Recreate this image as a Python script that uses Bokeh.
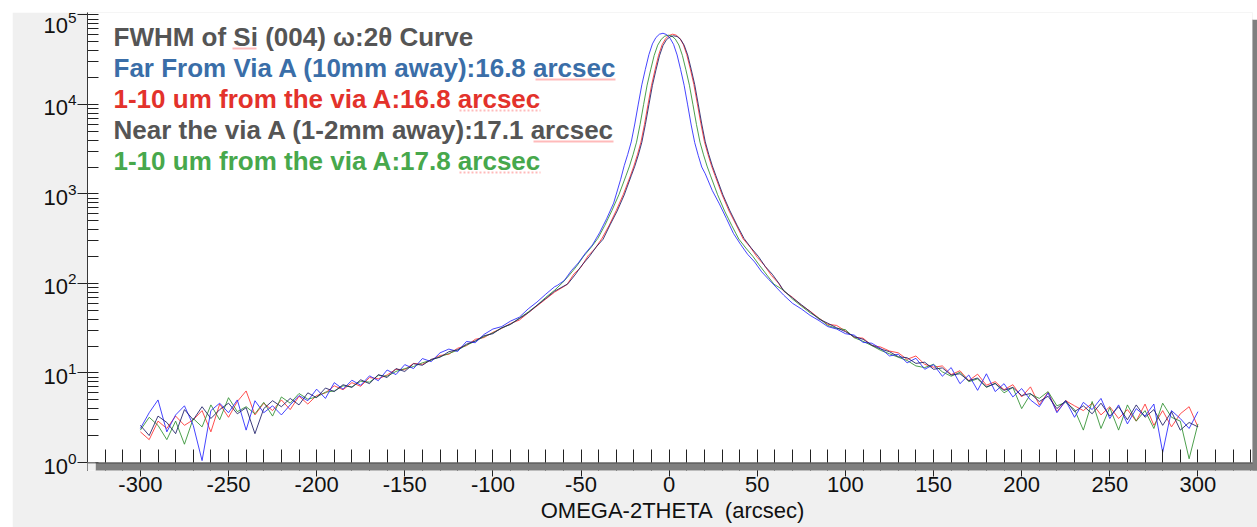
from math import pi
from bokeh.plotting import figure
from bokeh.models import Range1d, FixedTicker, Label, BoxAnnotation, ColumnDataSource
from bokeh.embed import file_html
from bokeh.resources import INLINE

# ---------------- data ----------------
tail_left_x = [-300, -295, -290, -285, -280, -275, -270, -265, -260, -255, -250, -245,
               -240, -235, -230, -225, -220, -215, -210, -205, -200, -195, -190, -185,
               -180, -175, -170, -165, -160, -155, -150, -145, -140, -135, -130, -125,
               -120, -115, -110, -105, -100, -95, -90, -85, -80, -75, -70, -65]
tail_right_x = [65, 70, 75, 80, 85, 90, 95, 100, 105, 110, 115, 120,
                125, 130, 135, 140, 145, 150, 155, 160, 165, 170, 175, 180,
                185, 190, 195, 200, 205, 210, 215, 220, 225, 230, 235, 240,
                245, 250, 255, 260, 265, 270, 275, 280, 285, 290, 295, 300]

# Far From Via A (blue)
blue_left = [2.4, 3.6, 5.0, 2.2, 3.4, 4.3, 2.6, 1.05, 3.8, 4.6, 3.6, 5.0, 2.3, 4.9, 3.6, 4.3,
             3.4, 4.4, 5.6, 4.9, 6.6, 5.2, 7.8, 6.6, 8.3, 7.3, 9.3, 8.2, 10.8, 9.6, 12.4, 11.2,
             14.5, 13.4, 16.8, 18.5, 17.4, 22.5, 21.8, 27, 31, 33, 38, 42, 52, 62, 76, 92]
blue_core_x = [-63.5, -59.5, -55.5, -51.5, -47.5, -43.5, -39.5, -35.5, -31.5, -27.5,
               -25.5, -23.5, -21.5, -19.5, -17.5, -15.5, -13.5, -11.5, -9.5, -7.5, -5.5, -3.5,
               -1.5, 0.5, 2.5, 4.5, 6.5, 8.5, 10.5, 12.5, 14.5, 16.5, 18.5,
               20.5, 24.5, 28.5, 32.5, 36.5, 40.5, 44.5, 48.5, 52.5, 56.5]
blue_core = [95, 108, 139, 170, 218, 270, 368, 528, 790, 1460,
             2070, 2770, 3820, 6050, 10100, 16600, 24700, 36000, 47500, 56000, 61000, 62500,
             60500, 55000, 47000, 35800, 24600, 16400, 9900, 5900, 3750, 2700, 2000,
             1680, 1090, 775, 532, 362, 274, 212, 174, 135, 111]
blue_right = [74, 60, 52, 44, 38.5, 33, 31, 27.5, 26.5, 22, 21.5, 18.8, 15.5, 16.2, 13.0, 14.6,
              11.0, 12.4, 9.2, 11.5, 7.6, 9.5, 6.4, 9.8, 6.2, 7.6, 5.4, 6.7, 5.0, 4.2, 6.0, 3.6,
              4.9, 3.2, 4.7, 3.9, 5.2, 3.1, 4.4, 2.7, 4.0, 3.3, 4.5, 1.3, 3.8, 3.1, 2.4, 3.7]

# 1-10 um from the via A (red)
red_left = [2.2, 1.8, 2.9, 2.4, 3.3, 2.6, 3.0, 3.8, 2.2, 4.5, 3.2, 4.8, 6.3, 3.4, 4.6, 3.8,
            5.0, 3.9, 5.5, 4.5, 5.6, 6.0, 7.2, 6.5, 7.8, 7.1, 8.9, 8.6, 9.5, 11.0, 10.9, 12.8,
            12.5, 14.0, 15.7, 16.2, 18.9, 20.2, 23.8, 24.9, 28.5, 31.5, 35.8, 39, 47, 56, 67, 80]
red_core_x = [-58, -54, -50, -46, -42, -38, -34, -30, -26, -22,
              -20, -18, -16, -14, -12, -10, -8, -6, -4, -2, 0, 2, 4, 6, 8, 10, 12, 14, 16,
              18, 20, 22, 24,
              26, 30, 34, 38, 42, 46, 50, 54, 58, 62]
red_core = [97, 128, 152, 204, 246, 322, 448, 655, 990, 1590,
            2060, 2750, 3800, 6000, 10000, 16400, 24500, 35500, 46500, 54500, 59000, 61000,
            59500, 55000, 47000, 36000, 25000, 16800, 10200, 6100, 3850, 2780, 2070,
            1610, 985, 645, 452, 315, 255, 196, 160, 123, 101]
red_right = [82, 70, 57, 49, 41, 35, 34, 29.5, 25, 24.5, 20.3, 19.5, 17.6, 16.8, 14.2, 15.5,
             12.5, 11.6, 12.0, 9.6, 10.6, 8.2, 9.7, 7.3, 8.0, 6.5, 7.4, 5.4, 7.0, 4.4, 6.1, 3.7,
             4.9, 4.3, 3.8, 4.6, 3.4, 4.2, 3.1, 3.9, 2.9, 4.5, 2.6, 3.8, 2.5, 3.5, 4.2, 2.5]

# Near the via A (dark navy)
navy_left = [2.6, 2.0, 3.3, 2.8, 2.1, 3.9, 3.0, 4.2, 3.1, 3.9, 4.6, 3.5, 4.1, 2.1, 4.0, 4.9,
             4.2, 5.2, 4.4, 6.0, 5.3, 6.8, 6.2, 7.4, 6.9, 8.4, 7.6, 9.6, 8.9, 11.2, 10.4, 12.7,
             12.2, 14.2, 15.0, 17.3, 18.2, 21.0, 22.8, 26.1, 27.5, 32, 35, 40.5, 47, 57, 68, 82]
navy_core_x = [-57.5, -53.5, -49.5, -45.5, -41.5, -37.5, -33.5, -29.5, -25.5, -21.5,
               -19.5, -17.5, -15.5, -13.5, -11.5, -9.5, -7.5, -5.5, -3.5, -1.5, 0.5, 2.5,
               4.5, 6.5, 8.5, 10.5, 12.5, 14.5, 16.5, 18.5, 20.5, 22.5, 24.5,
               26.5, 30.5, 34.5, 38.5, 42.5, 46.5, 50.5, 54.5, 58.5, 62.5]
navy_core = [99, 124, 160, 198, 254, 312, 452, 645, 975, 1600,
             2040, 2720, 3780, 5950, 9900, 16300, 24200, 35000, 45500, 53000, 57000, 58500,
             57500, 53500, 46000, 35800, 24800, 16700, 10100, 6050, 3820, 2760, 2060,
             1605, 978, 648, 449, 318, 250, 202, 155, 127, 99]
navy_right = [83, 69, 58, 48.5, 40, 36, 32, 29, 25.5, 23.8, 20.5, 18.5, 17.3, 15.2, 14.8, 12.8,
              13.2, 11.0, 11.4, 9.5, 9.8, 8.2, 8.8, 7.0, 7.6, 6.4, 6.9, 5.6, 5.9, 4.8, 5.5, 4.0,
              4.9, 3.7, 4.3, 3.5, 4.6, 3.3, 4.2, 3.0, 4.4, 3.2, 3.9, 2.6, 3.7, 2.3, 2.8, 2.5]

# 1-10 um from the via A (green)
green_left = [2.3, 3.2, 2.6, 1.8, 2.9, 1.6, 3.1, 2.5, 4.4, 3.0, 5.3, 3.7, 4.2, 3.5, 4.7, 3.3,
              5.4, 4.6, 5.9, 5.1, 5.4, 6.1, 6.3, 7.2, 7.0, 8.1, 7.9, 9.4, 9.2, 10.4, 11.2, 11.8,
              13.0, 13.9, 15.2, 16.5, 18.0, 20.5, 22.6, 25.5, 28, 31.8, 35, 41, 48, 57, 70, 84]
green_core_x = [-60.5, -56.5, -52.5, -48.5, -44.5, -40.5, -36.5, -32.5, -28.5, -24.5,
                -22.5, -20.5, -18.5, -16.5, -14.5, -12.5, -10.5, -8.5, -6.5, -4.5, -2.5, -0.5,
                1.5, 3.5, 5.5, 7.5, 9.5, 11.5, 13.5, 15.5, 17.5, 19.5, 21.5,
                23.5, 27.5, 31.5, 35.5, 39.5, 43.5, 47.5, 51.5, 55.5, 59.5]
green_core = [102, 125, 156, 202, 250, 318, 446, 652, 982, 1595,
              2050, 2740, 3790, 5980, 9950, 16450, 24400, 35300, 46000, 53500, 58000, 59500,
              58200, 53800, 46200, 35400, 24400, 16400, 9950, 5970, 3790, 2740, 2050,
              1598, 980, 642, 445, 314, 249, 201, 157, 124, 98]
green_right = [84, 67, 56, 47, 41, 34, 31.5, 30.5, 24.8, 22.6, 20.2, 17.9, 16.4, 15.0, 13.8, 12.0,
               11.5, 12.5, 10.3, 9.2, 10.2, 8.0, 8.6, 6.9, 7.7, 6.0, 6.9, 4.0, 5.8, 5.2, 6.2, 4.3,
               4.7, 3.9, 2.3, 4.8, 2.4, 4.1, 2.3, 4.4, 2.9, 3.8, 2.4, 4.6, 3.2, 2.9, 1.1, 2.7]

x_major_ticks = [-300, -250, -200, -150, -100, -50, 0, 50, 100, 150, 200, 250, 300]
x_minor_ticks = [-330, -320, -310, -290, -280, -270, -260, -240, -230, -220, -210, -190, -180,
                 -170, -160, -140, -130, -120, -110, -90, -80, -70, -60, -40, -30, -20, -10,
                 10, 20, 30, 40, 60, 70, 80, 90, 110, 120, 130, 140, 160, 170, 180, 190,
                 210, 220, 230, 240, 260, 270, 280, 290, 310, 320, 330]
y_major_ticks = [1, 10, 100, 1000, 10000, 100000]
y_minor_ticks = [2, 3, 4, 5, 6, 7, 8, 9, 20, 30, 40, 50, 60, 70, 80, 90,
                 200, 300, 400, 500, 600, 700, 800, 900,
                 2000, 3000, 4000, 5000, 6000, 7000, 8000, 9000,
                 20000, 30000, 40000, 50000, 60000, 70000, 80000, 90000]

title_lines = ["FWHM of Si (004) \u03c9:2\u03b8 Curve",
               "Far From Via A (10mm away):16.8 arcsec",
               "1-10 um from the via A:16.8 arcsec",
               "Near the via A (1-2mm away):17.1 arcsec",
               "1-10 um from the via A:17.8 arcsec"]
title_colors = ["#555555", "#3a6ea8", "#e3322b", "#555555", "#47a84c"]

FONT = "Liberation Sans"
SH = "#7f7f7f"
PAGE = "#f0f0f0"

# frame spans x 87..1257 and y 12..470; the white plot box is 87..1252 x 12..462,
# the rest of the frame is the box's drop shadow
p = figure(width=1245, height=515, margin=(12, 0, 0, 12),
           x_range=Range1d(-330, 333.8), y_range=Range1d(0.814, 1.066e5),
           y_axis_type="log", output_backend="svg", toolbar_location=None,
           min_border_left=75, min_border_right=0, min_border_top=0, min_border_bottom=57,
           border_fill_color=PAGE, background_fill_color="white",
           outline_line_color=None)
p.xgrid.visible = False
p.ygrid.visible = False

def box(**kw):
    return BoxAnnotation(left_units="screen", right_units="screen",
                         top_units="screen", bottom_units="screen", **kw)

series = [
    (tail_left_x + red_core_x + tail_right_x, red_left + red_core + red_right, "#ff3030"),
    (tail_left_x + green_core_x + tail_right_x, green_left + green_core + green_right, "#2e8f2e"),
    (tail_left_x + blue_core_x + tail_right_x, blue_left + blue_core + blue_right, "#2525ff"),
    (tail_left_x + navy_core_x + tail_right_x, navy_left + navy_core + navy_right, "#1c1c66"),
]
for xs, ys, col in series:
    src = ColumnDataSource(data=dict(x=xs, y=ys))
    p.line("x", "y", source=src, line_color=col, line_width=1, line_alpha=0.85)

# plot box outline (light grey), shadow bands, page patches, dark bottom rule
p.add_layout(box(left=0, right=1165, bottom=8, top=458, fill_alpha=0,
                 line_color="#bdbdbd", line_width=1))
p.add_layout(box(left=8, right=1175, bottom=-2, top=8, fill_color=SH, fill_alpha=1, line_alpha=0))
p.add_layout(box(left=1165, right=1175, bottom=-2, top=451, fill_color=SH, fill_alpha=1,
                 line_alpha=0))
p.add_layout(box(left=-2, right=8, bottom=-2, top=8, fill_color=PAGE, fill_alpha=1, line_alpha=0))
p.add_layout(box(left=1165, right=1175, bottom=451, top=460, fill_color="white", fill_alpha=1,
                 line_alpha=0))
p.add_layout(box(left=0, right=1165, bottom=7.5, top=7.5, fill_alpha=0,
                 line_color="#222222", line_width=1))

xa = p.xaxis[0]
xa.ticker = FixedTicker(ticks=x_major_ticks, minor_ticks=x_minor_ticks)
xa.major_label_overrides = {t: str(t) for t in x_major_ticks}
xa.axis_line_color = None
xa.major_tick_line_color = "#222222"
xa.minor_tick_line_color = "#222222"
xa.major_tick_in = 21
xa.major_tick_out = 6
xa.minor_tick_in = 21
xa.minor_tick_out = 0
xa.major_label_standoff = 0
xa.major_label_text_font = FONT
xa.major_label_text_font_size = "22px"
xa.major_label_text_color = "#111111"
xa.axis_label = "OMEGA-2THETA\u00a0 (arcsec)"
xa.axis_label_text_font = FONT
xa.axis_label_text_font_style = "normal"
xa.axis_label_text_font_size = "22px"
xa.axis_label_text_color = "#111111"
xa.axis_label_standoff = 3

ya = p.yaxis[0]
ya.ticker = FixedTicker(ticks=y_major_ticks, minor_ticks=y_minor_ticks)
ya.axis_line_color = "#222222"
ya.major_tick_line_color = "#222222"
ya.minor_tick_line_color = "#222222"
ya.major_tick_in = 11
ya.major_tick_out = 10
ya.minor_tick_in = 11
ya.minor_tick_out = 0
ya.major_label_standoff = 1
ya.major_label_text_font = FONT
ya.major_label_text_font_size = "22px"
ya.major_label_text_color = "#111111"

p.add_layout(Label(x=-58, y=230, x_units="screen", y_units="screen", text="Intensity (cps)",
                   angle=pi / 2, text_align="center", text_baseline="alphabetic",
                   text_font=FONT, text_font_size="22px", text_color="#111111"))

baselines = [434, 403, 372, 341, 310]
for txt, col, yb in zip(title_lines, title_colors, baselines):
    p.add_layout(Label(x=26, y=yb, x_units="screen", y_units="screen", text=txt,
                       text_align="left", text_baseline="alphabetic",
                       text_font=FONT, text_font_style="bold", text_font_size="26px",
                       text_color=col))

# red dotted spell-check underlines under "Si" and "arcsec"
underlines = [(145, 169, 422), (448, 528, 391), (372, 453, 360), (446, 526, 329), (372, 453, 298)]
for x0, x1, yy in underlines:
    p.add_layout(box(left=x0, right=x1, top=yy, bottom=yy, fill_alpha=0,
                     line_color="#ff1a1a", line_width=2, line_dash="2 2"))

open("out.html", "w").write(file_html(p, INLINE, title="FWHM of Si (004)"))
